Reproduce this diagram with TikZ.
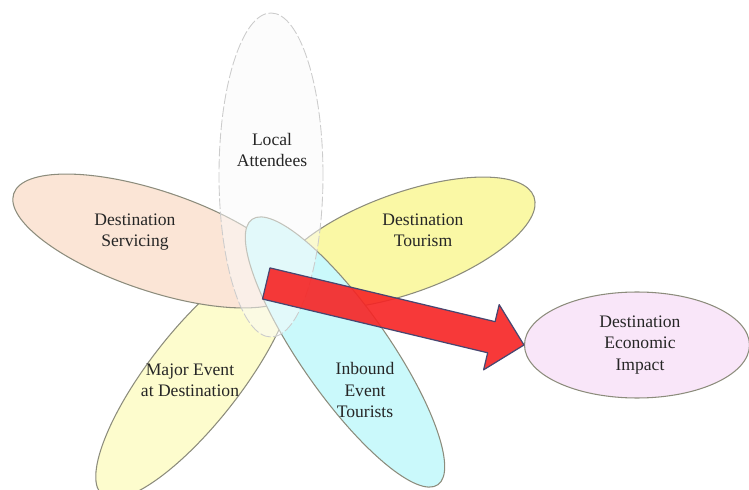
\documentclass[tikz,border=0pt]{standalone}
\usepackage{fontspec}
\setmainfont{Liberation Serif}
\usetikzlibrary{shapes.geometric}

\definecolor{peach}{RGB}{251,229,214}
\definecolor{gelb}{RGB}{250,248,165}
\definecolor{hellgelb}{RGB}{253,252,205}
\definecolor{cyanhell}{RGB}{202,249,251}
\definecolor{rosa}{RGB}{249,230,249}
\definecolor{grauhell}{RGB}{250,250,250}
\definecolor{rand}{RGB}{140,140,124}
\definecolor{pfeilrot}{RGB}{246,36,36}
\definecolor{pfeilrand}{RGB}{72,70,112}

\begin{document}
\begin{tikzpicture}[
    blatt/.style={ellipse, draw=rand, line width=0.6pt, inner sep=0pt},
    txt/.style={align=center, text=black!85, font=\fontsize{10}{12}\selectfont}
]
    \useasboundingbox (0,0) rectangle (14.98,9.78);

    % Blaetter der Blume
    \node[blatt, fill=hellgelb, minimum width=6cm, minimum height=1.84cm, rotate=52] (major) at (3.90,2.24) {};
    \node[blatt, fill=gelb, minimum width=5.48cm, minimum height=2cm, rotate=19.7] (tourism) at (8.10,4.92) {};
    \node[blatt, fill=peach, minimum width=5.96cm, minimum height=2cm, rotate=-18.5] (servicing) at (3.10,4.96) {};
    \node[blatt, fill=cyanhell, minimum width=6.48cm, minimum height=1.76cm, rotate=-55] (inbound) at (6.90,2.74) {};

    % Lokale Besucher (halb durchsichtig)
    \node[blatt, draw=gray!40, line width=0.5pt, dash pattern=on 6pt off 1.5pt, fill=grauhell, fill opacity=0.5, minimum width=2.08cm, minimum height=6.48cm] (local) at (5.42,6.28) {};

    % Wirkung
    \node[blatt, fill=rosa, minimum width=4.5cm, minimum height=2.12cm] (impact) at (12.74,2.88) {};

    % Pfeil zur Wirkung
    \begin{scope}[shift={(impact.west)}, rotate=-13.43]
        \draw[fill=pfeilrot, fill opacity=0.9, draw=pfeilrand, line width=0.7pt, line join=round]
            (0,0) -- (-0.67,0.67) -- (-0.67,0.32) -- (-5.3,0.32) -- (-5.3,-0.32) -- (-0.67,-0.32) -- (-0.67,-0.67) -- cycle;
    \end{scope}

    % Beschriftungen
    \node[txt] (localtext) at (5.44,6.78) {Local\\Attendees};
    \node[txt] (servicingtext) at (2.70,5.14) {Destination\\Servicing};
    \node[txt] (tourismtext) at (8.46,5.18) {Destination\\Tourism};
    \node[txt] (majortext) at (3.80,2.18) {Major Event\\at Destination};
    \node[txt] (inboundtext) at (7.30,1.98) {Inbound\\Event\\Tourists};
    \node[txt] (impacttext) at (12.80,2.88) {Destination\\Economic\\Impact};
\end{tikzpicture}
\end{document}
